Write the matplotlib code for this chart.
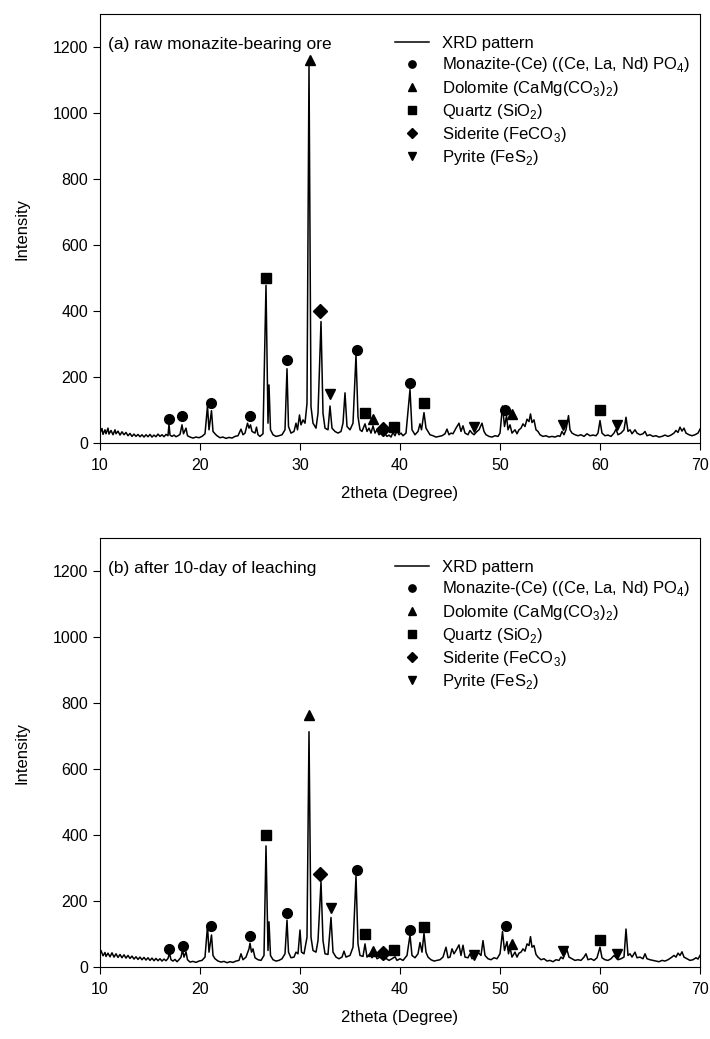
import matplotlib
matplotlib.use("Agg")
import matplotlib.pyplot as plt

plt.rcParams['font.family'] = ['Liberation Sans', 'DejaVu Sans']
plt.rcParams['mathtext.fontset'] = 'custom'
plt.rcParams['mathtext.rm'] = 'Liberation Sans'

# XRD trace, panel (a): raw monazite-bearing ore (vertices)
two_theta_a = [
    10.0, 10.2, 10.3, 10.5, 10.6, 10.8, 10.9, 11.1, 11.3, 11.5, 11.6, 11.8, 12.0, 12.2, 12.4, 12.6,
    12.8, 13.0, 13.2, 13.4, 13.6, 13.8, 14.0, 14.2, 14.4, 14.6, 14.8, 15.0, 15.2, 15.4, 15.6, 15.8,
    16.0, 16.2, 16.4, 16.6, 16.8, 16.9, 17.0, 17.2, 17.4, 17.6, 17.8, 18.0, 18.2, 18.35, 18.6, 18.75,
    19.0, 19.3, 19.6, 19.9, 20.2, 20.5, 20.75, 20.9, 21.15, 21.3, 21.5, 21.7, 22.0, 22.3, 22.6, 22.9,
    23.2, 23.5, 23.8, 24.1, 24.3, 24.5, 24.75, 24.9, 25.05, 25.2, 25.5, 25.65, 25.8, 26.0, 26.3, 26.6,
    26.8, 26.9, 27.05, 27.3, 27.6, 27.9, 28.2, 28.5, 28.7, 28.85, 29.1, 29.4, 29.6, 29.75, 29.95, 30.1,
    30.3, 30.5, 30.7, 30.9, 31.1, 31.3, 31.6, 31.8, 32.1, 32.3, 32.5, 32.8, 33.0, 33.2, 33.5, 33.8,
    34.1, 34.3, 34.5, 34.7, 35.0, 35.3, 35.6, 35.8, 36.0, 36.2, 36.5, 36.7, 36.9, 37.1, 37.3, 37.5,
    37.7, 37.9, 38.1, 38.3, 38.5, 38.7, 38.9, 39.1, 39.3, 39.5, 39.7, 39.9, 40.1, 40.3, 40.6, 41.0,
    41.2, 41.5, 41.8, 42.0, 42.15, 42.4, 42.6, 42.8, 43.0, 43.3, 43.6, 43.9, 44.2, 44.5, 44.7, 44.9,
    45.1, 45.3, 45.6, 45.9, 46.1, 46.3, 46.5, 46.8, 47.0, 47.2, 47.4, 47.7, 47.9, 48.2, 48.4, 48.6,
    48.9, 49.2, 49.5, 49.8, 50.0, 50.25, 50.45, 50.65, 50.8, 51.0, 51.2, 51.5, 51.7, 51.9, 52.1, 52.3,
    52.5, 52.7, 52.9, 53.05, 53.2, 53.4, 53.6, 53.8, 54.0, 54.3, 54.6, 54.9, 55.2, 55.5, 55.8, 56.0,
    56.2, 56.4, 56.6, 56.85, 57.0, 57.2, 57.5, 57.8, 58.1, 58.4, 58.7, 59.0, 59.3, 59.6, 59.8, 60.0,
    60.2, 60.5, 60.8, 61.1, 61.4, 61.6, 61.8, 62.1, 62.4, 62.6, 62.8, 63.0, 63.2, 63.5, 63.7, 64.0,
    64.3, 64.5, 64.7, 65.0, 65.3, 65.6, 65.9, 66.2, 66.5, 66.8, 67.1, 67.4, 67.6, 67.8, 68.0, 68.2,
    68.4, 68.6, 68.9, 69.2, 69.5, 69.8, 70.0,
]
intensity_a = [
    30, 44, 26, 40, 28, 45, 27, 38, 25, 40, 28, 36, 24, 34, 25, 32,
    22, 29, 20, 27, 20, 26, 19, 25, 18, 25, 19, 26, 18, 24, 19, 27,
    20, 25, 19, 26, 22, 57, 24, 20, 24, 19, 22, 26, 55, 28, 45, 22,
    18, 15, 18, 16, 20, 28, 112, 40, 98, 35, 28, 22, 16, 18, 14, 17,
    15, 20, 22, 42, 25, 30, 60, 45, 55, 35, 30, 48, 25, 20, 28, 478,
    60, 176, 40, 25, 20, 22, 25, 40, 225, 50, 30, 35, 60, 40, 85, 55,
    70, 60, 120, 1145, 110, 60, 45, 90, 368, 90, 45, 40, 112, 45, 35, 30,
    35, 60, 152, 50, 40, 60, 267, 80, 40, 35, 58, 35, 45, 30, 52, 30,
    40, 25, 30, 22, 28, 20, 24, 18, 32, 22, 38, 25, 30, 22, 30, 162,
    40, 25, 35, 58, 40, 92, 45, 35, 25, 22, 18, 20, 22, 28, 42, 25,
    30, 28, 45, 60, 35, 52, 30, 25, 38, 30, 25, 35, 40, 60, 35, 25,
    20, 18, 22, 20, 30, 112, 50, 82, 40, 55, 30, 40, 28, 40, 45, 58,
    50, 72, 65, 88, 62, 70, 40, 35, 25, 20, 22, 18, 20, 18, 22, 20,
    35, 25, 40, 83, 40, 30, 25, 22, 25, 20, 28, 22, 24, 22, 30, 68,
    30, 22, 24, 20, 30, 42, 25, 30, 40, 78, 35, 40, 28, 40, 30, 25,
    28, 35, 22, 25, 20, 22, 18, 20, 24, 20, 24, 30, 38, 32, 48, 36,
    45, 30, 25, 22, 25, 30, 42,
]

# XRD trace, panel (b): after 10-day of leaching
two_theta_b = [
    10.0, 10.1, 10.3, 10.5, 10.6, 10.8, 11.0, 11.2, 11.4, 11.6, 11.8, 12.0, 12.2, 12.4, 12.6, 12.8,
    13.0, 13.2, 13.4, 13.6, 13.8, 14.0, 14.2, 14.4, 14.6, 14.8, 15.0, 15.2, 15.4, 15.6, 15.8, 16.0,
    16.2, 16.4, 16.6, 16.8, 16.95, 17.1, 17.3, 17.5, 17.7, 17.9, 18.1, 18.25, 18.4, 18.6, 18.75, 19.0,
    19.3, 19.6, 19.9, 20.2, 20.5, 20.75, 20.9, 21.15, 21.3, 21.5, 21.8, 22.1, 22.4, 22.7, 23.0, 23.3,
    23.6, 23.9, 24.1, 24.3, 24.6, 24.9, 25.0, 25.15, 25.3, 25.5, 25.8, 26.1, 26.4, 26.6, 26.8, 26.9,
    27.05, 27.3, 27.6, 27.9, 28.2, 28.5, 28.7, 28.85, 29.1, 29.4, 29.6, 29.8, 30.0, 30.15, 30.4, 30.7,
    30.9, 31.1, 31.3, 31.6, 31.8, 32.1, 32.3, 32.5, 32.8, 33.1, 33.3, 33.6, 33.9, 34.2, 34.4, 34.6,
    35.0, 35.3, 35.6, 35.8, 36.0, 36.3, 36.5, 36.7, 37.0, 37.2, 37.5, 37.7, 38.0, 38.3, 38.6, 38.9,
    39.2, 39.5, 39.7, 40.0, 40.3, 40.7, 41.0, 41.2, 41.5, 41.8, 42.0, 42.2, 42.4, 42.6, 42.8, 43.1,
    43.4, 43.7, 44.0, 44.3, 44.6, 44.8, 45.0, 45.2, 45.4, 45.6, 45.9, 46.1, 46.3, 46.5, 46.8, 47.0,
    47.2, 47.5, 47.8, 48.1, 48.3, 48.5, 48.8, 49.1, 49.4, 49.7, 50.0, 50.25, 50.45, 50.7, 50.85, 51.0,
    51.2, 51.5, 51.7, 51.9, 52.1, 52.3, 52.5, 52.7, 52.9, 53.05, 53.2, 53.4, 53.6, 53.8, 54.1, 54.4,
    54.7, 55.0, 55.3, 55.6, 55.9, 56.1, 56.3, 56.5, 56.7, 56.9, 57.2, 57.5, 57.8, 58.1, 58.4, 58.6,
    58.8, 59.1, 59.4, 59.7, 60.0, 60.2, 60.5, 60.8, 61.1, 61.4, 61.6, 61.8, 62.1, 62.4, 62.6, 62.8,
    63.0, 63.2, 63.5, 63.7, 64.0, 64.3, 64.5, 64.7, 65.0, 65.3, 65.6, 65.9, 66.2, 66.5, 66.8, 67.1,
    67.4, 67.6, 67.8, 68.0, 68.2, 68.4, 68.7, 69.0, 69.3, 69.6, 69.8, 70.0,
]
intensity_b = [
    40, 50, 34, 44, 32, 42, 31, 43, 30, 40, 29, 38, 28, 37, 27, 35,
    26, 33, 24, 31, 23, 30, 22, 29, 21, 28, 20, 27, 19, 26, 19, 25,
    18, 24, 19, 26, 42, 22, 18, 23, 16, 22, 30, 52, 30, 46, 22, 15,
    17, 14, 18, 20, 30, 124, 45, 97, 35, 25, 18, 15, 17, 13, 16, 14,
    18, 20, 40, 22, 30, 55, 72, 45, 55, 28, 22, 20, 35, 367, 50, 137,
    35, 22, 18, 20, 25, 40, 142, 45, 28, 30, 45, 40, 112, 45, 40, 90,
    713, 90, 50, 45, 80, 258, 80, 40, 38, 150, 45, 30, 25, 30, 48, 30,
    35, 60, 276, 70, 35, 32, 70, 30, 40, 28, 40, 25, 30, 22, 26, 20,
    25, 31, 20, 25, 20, 35, 97, 35, 28, 40, 74, 45, 102, 45, 30, 22,
    18, 20, 22, 30, 60, 28, 30, 55, 40, 50, 67, 35, 66, 30, 28, 40,
    25, 30, 45, 35, 80, 35, 25, 22, 28, 25, 40, 107, 50, 77, 40, 60,
    30, 45, 30, 42, 45, 55, 48, 70, 65, 92, 60, 65, 38, 30, 22, 25,
    18, 20, 16, 22, 20, 30, 25, 40, 52, 30, 25, 20, 22, 20, 30, 40,
    22, 25, 20, 28, 60, 28, 22, 20, 25, 35, 28, 22, 25, 30, 115, 35,
    40, 30, 45, 28, 30, 25, 40, 25, 22, 20, 18, 16, 20, 18, 22, 28,
    35, 30, 42, 35, 46, 30, 25, 20, 22, 28, 24, 35,
]

# phase markers (2theta, intensity) for panel (a)
monazite_a_x = [16.9, 18.2, 21.1, 25.0, 28.7, 35.7, 41.0, 50.5]
monazite_a_y = [72, 82, 122, 82, 252, 282, 183, 100]
dolomite_a_x = [31.0, 37.3, 51.2]
dolomite_a_y = [1160, 72, 88]
quartz_a_x = [26.6, 36.5, 39.4, 42.4, 60.0]
quartz_a_y = [500, 90, 50, 120, 100]
siderite_a_x = [32.0, 38.3]
siderite_a_y = [400, 41]
pyrite_a_x = [33.0, 47.4, 56.3, 61.7]
pyrite_a_y = [147, 47, 55, 55]

# phase markers for panel (b)
monazite_b_x = [16.9, 18.3, 21.1, 25.0, 28.7, 35.7, 41.0, 50.6]
monazite_b_y = [54, 63, 124, 94, 163, 293, 113, 123]
dolomite_b_x = [30.9, 37.3, 51.2]
dolomite_b_y = [764, 49, 71]
quartz_b_x = [26.6, 36.5, 39.4, 42.4, 60.0]
quartz_b_y = [400, 101, 51, 121, 81]
siderite_b_x = [32.0, 38.3]
siderite_b_y = [281, 43]
pyrite_b_x = [33.1, 47.4, 56.3, 61.7]
pyrite_b_y = [179, 36, 49, 39]

titles = ["(a) raw monazite-bearing ore", "(b) after 10-day of leaching"]
phase_labels = [
    r"Monazite-(Ce) ((Ce, La, Nd) PO$_\mathregular{4}$)",
    r"Dolomite (CaMg(CO$_\mathregular{3}$)$_\mathregular{2}$)",
    r"Quartz (SiO$_\mathregular{2}$)",
    r"Siderite (FeCO$_\mathregular{3}$)",
    r"Pyrite (FeS$_\mathregular{2}$)",
]
phase_markers = ["o", "^", "s", "D", "v"]
marker_sizes = [7, 7.5, 7, 7, 7.5]

panels = [
    (two_theta_a, intensity_a,
     [(monazite_a_x, monazite_a_y), (dolomite_a_x, dolomite_a_y), (quartz_a_x, quartz_a_y),
      (siderite_a_x, siderite_a_y), (pyrite_a_x, pyrite_a_y)]),
    (two_theta_b, intensity_b,
     [(monazite_b_x, monazite_b_y), (dolomite_b_x, dolomite_b_y), (quartz_b_x, quartz_b_y),
      (siderite_b_x, siderite_b_y), (pyrite_b_x, pyrite_b_y)]),
]

fig = plt.figure(figsize=(7.1, 10.39), dpi=100)
axes_rects = [[100 / 710, 596 / 1039, 600 / 710, 429 / 1039],
              [100 / 710, 72 / 1039, 600 / 710, 429 / 1039]]

for rect, title, (tt, inten, phases) in zip(axes_rects, titles, panels):
    ax = fig.add_axes(rect)
    ax.plot(tt, inten, color="black", lw=1.1, label="XRD pattern")
    for (px, py), lab, mk, ms in zip(phases, phase_labels, phase_markers, marker_sizes):
        ax.plot(px, py, linestyle="none", marker=mk, ms=ms, color="black", label=lab)
    ax.set_xlim(10, 70)
    ax.set_ylim(0, 1300)
    ax.set_xticks(range(10, 71, 10))
    ax.set_yticks(range(0, 1201, 200))
    ax.tick_params(direction="out", length=5, width=0.8, labelsize=11.5)
    ax.tick_params(axis="x", pad=5.5)
    for sp in ax.spines.values():
        sp.set_linewidth(0.8)
    ax.set_xlabel("2theta (Degree)", fontsize=12, labelpad=10)
    ax.set_ylabel("Intensity", fontsize=12, labelpad=17)
    ax.text(0.013, 0.93, title, transform=ax.transAxes, fontsize=12.5, va="center", ha="left")
    ax.legend(loc="upper left", bbox_to_anchor=(0.467, 0.983), frameon=False, fontsize=12,
              handlelength=2.0, handletextpad=0.8, labelspacing=0.25, markerscale=0.75)

fig.savefig("out.png", dpi=100)
